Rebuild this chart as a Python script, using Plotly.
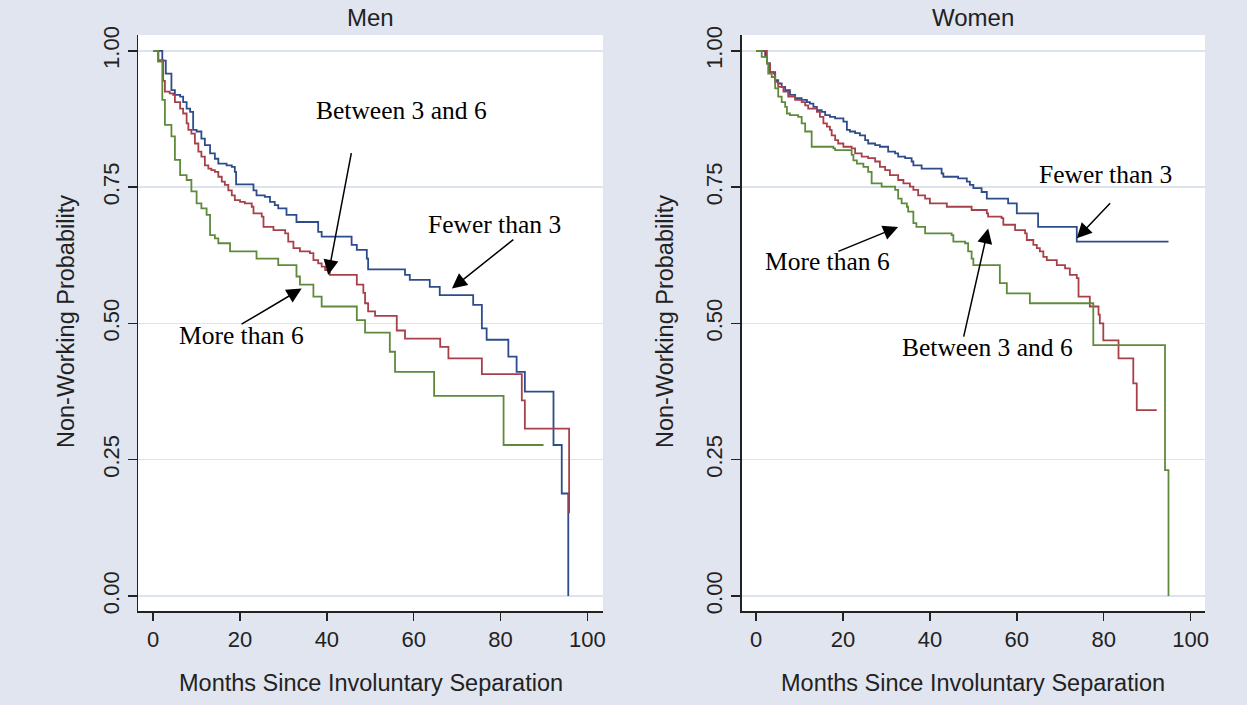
import plotly.graph_objects as go

# ---------------- data ----------------
tick_x = [0, 20, 40, 60, 80, 100]
tick_y = [0, 0.25, 0.5, 0.75, 1.0]
tick_y_text = ["0.00", "0.25", "0.50", "0.75", "1.00"]
series_names = ["Fewer than 3", "Between 3 and 6", "More than 6"]

# Men
men_fewer_t = [0, 2.1, 2.9, 4.2, 5.0, 6.2, 6.9, 7.7, 8.5, 9.2, 10.0, 11.1, 11.9, 13.1, 14.2, 15.0,
               16.9, 18.1, 18.8, 19.1, 23.1, 23.8, 25.7, 26.9, 28.0, 28.8, 30.7, 33.0, 38.0, 38.8,
               45.7, 46.9, 49.2, 49.5, 58.0, 59.1, 63.7, 66.0, 73.7, 75.7, 76.8, 81.8, 83.7, 85.6,
               92.2, 94.1, 95.6]
men_fewer_s = [1.0, 0.982, 0.958, 0.928, 0.919, 0.916, 0.906, 0.894, 0.888, 0.855, 0.852, 0.839,
               0.827, 0.812, 0.802, 0.793, 0.790, 0.787, 0.778, 0.755, 0.744, 0.735, 0.732, 0.723,
               0.717, 0.711, 0.699, 0.686, 0.668, 0.659, 0.644, 0.635, 0.619, 0.599, 0.589, 0.580,
               0.567, 0.552, 0.534, 0.491, 0.470, 0.439, 0.411, 0.375, 0.277, 0.188, 0.0]

men_between_t = [0, 1.2, 2.3, 2.7, 3.8, 4.6, 5.0, 6.2, 6.9, 7.7, 8.1, 8.8, 9.6, 10.4, 11.1, 11.9,
                 12.7, 13.4, 14.2, 15.0, 15.8, 16.5, 17.3, 18.1, 18.8, 20.0, 21.1, 22.7, 23.1, 25.0,
                 25.4, 27.7, 30.4, 31.1, 32.3, 33.8, 36.1, 36.9, 38.0, 38.8, 39.6, 40.7, 46.9, 48.4,
                 48.8, 49.5, 51.1, 56.1, 58.0, 66.1, 68.0, 75.7, 84.9, 85.6, 95.8]
men_between_s = [1.0, 0.983, 0.945, 0.925, 0.922, 0.919, 0.906, 0.894, 0.885, 0.867, 0.855, 0.848,
                 0.830, 0.815, 0.806, 0.790, 0.784, 0.781, 0.778, 0.769, 0.760, 0.754, 0.744, 0.735,
                 0.726, 0.723, 0.720, 0.714, 0.702, 0.696, 0.677, 0.671, 0.665, 0.650, 0.638, 0.632,
                 0.629, 0.616, 0.610, 0.604, 0.598, 0.589, 0.571, 0.556, 0.537, 0.522, 0.514, 0.487,
                 0.472, 0.457, 0.436, 0.407, 0.359, 0.307, 0.152]

men_more_t = [0, 1.1, 2.1, 2.7, 4.2, 5.0, 6.2, 7.7, 8.8, 10.0, 11.1, 12.3, 13.1, 14.2, 15.0, 17.7,
              23.8, 28.8, 33.0, 33.8, 36.9, 38.8, 46.9, 48.8, 54.5, 55.7, 64.7, 80.7, 89.9]
men_more_s = [1.0, 0.980, 0.910, 0.864, 0.843, 0.800, 0.772, 0.763, 0.742, 0.720, 0.711, 0.699,
              0.662, 0.656, 0.647, 0.632, 0.619, 0.607, 0.586, 0.571, 0.549, 0.531, 0.506, 0.483,
              0.448, 0.411, 0.367, 0.277, 0.277]

# Women
women_fewer_t = [0, 2.1, 2.5, 3.2, 4.4, 5.1, 5.9, 6.7, 7.8, 9.0, 10.5, 11.7, 12.4, 13.2, 14.0, 15.1,
                 15.9, 17.0, 18.2, 20.1, 20.9, 21.6, 22.8, 23.9, 25.1, 25.8, 27.4, 28.5, 30.4, 32.0,
                 32.7, 34.3, 35.8, 36.2, 38.1, 42.7, 43.1, 46.5, 48.5, 49.2, 50.0, 51.9, 53.1, 58.0,
                 60.0, 64.9, 73.8, 94.9]
women_fewer_s = [1.0, 0.989, 0.977, 0.961, 0.946, 0.940, 0.934, 0.928, 0.919, 0.913, 0.910, 0.906,
                 0.903, 0.897, 0.891, 0.888, 0.882, 0.879, 0.876, 0.870, 0.855, 0.852, 0.849, 0.845,
                 0.836, 0.830, 0.827, 0.824, 0.815, 0.812, 0.806, 0.803, 0.797, 0.790, 0.784, 0.775,
                 0.769, 0.766, 0.760, 0.754, 0.748, 0.741, 0.729, 0.720, 0.702, 0.677, 0.650, 0.650]

women_between_t = [0, 2.5, 3.2, 4.0, 4.4, 5.1, 6.3, 7.4, 9.0, 10.5, 11.3, 12.0, 14.0, 14.7, 15.5,
                   16.3, 17.0, 17.4, 18.2, 18.9, 20.1, 22.0, 22.8, 24.3, 25.8, 27.4, 28.5, 29.7,
                   30.8, 32.7, 33.9, 35.4, 36.2, 37.3, 38.9, 40.0, 43.9, 49.6, 53.1, 53.4, 56.5,
                   56.9, 59.6, 61.9, 62.3, 63.8, 64.6, 65.3, 66.1, 66.9, 69.2, 71.1, 72.2, 73.8,
                   74.2, 76.8, 78.8, 79.1, 79.9, 83.4, 86.8, 87.6, 92.2]
women_between_s = [1.0, 0.977, 0.961, 0.958, 0.943, 0.934, 0.925, 0.916, 0.910, 0.906, 0.900,
                   0.894, 0.888, 0.879, 0.867, 0.861, 0.855, 0.845, 0.836, 0.830, 0.824, 0.821,
                   0.812, 0.806, 0.803, 0.797, 0.787, 0.781, 0.772, 0.763, 0.757, 0.751, 0.745,
                   0.735, 0.729, 0.720, 0.714, 0.708, 0.702, 0.696, 0.693, 0.681, 0.671, 0.665,
                   0.653, 0.644, 0.638, 0.632, 0.622, 0.616, 0.607, 0.601, 0.589, 0.583, 0.549,
                   0.531, 0.516, 0.500, 0.469, 0.436, 0.390, 0.341, 0.341]

women_more_t = [0, 1.3, 2.5, 2.8, 3.6, 4.4, 5.1, 5.9, 6.7, 7.1, 7.8, 9.7, 10.5, 11.3, 12.8, 17.8,
                18.2, 22.0, 22.4, 23.2, 24.7, 25.8, 26.6, 28.9, 32.0, 32.7, 33.5, 34.7, 35.0, 36.2,
                36.9, 38.9, 45.0, 45.4, 48.1, 48.8, 49.6, 50.0, 56.1, 57.7, 63.0, 77.6, 94.1, 94.9]
women_more_s = [1.0, 0.989, 0.977, 0.958, 0.952, 0.931, 0.916, 0.906, 0.897, 0.885, 0.882, 0.879,
                0.867, 0.852, 0.824, 0.821, 0.818, 0.809, 0.799, 0.793, 0.787, 0.778, 0.757, 0.751,
                0.745, 0.729, 0.720, 0.714, 0.705, 0.684, 0.677, 0.665, 0.662, 0.650, 0.647, 0.632,
                0.619, 0.607, 0.574, 0.555, 0.537, 0.460, 0.231, 0.0]

# ---------------- styling ----------------
BG = "#E1E5EF"
GRID = "#DCE2EE"
COLORS = ["#2E4C8C", "#A8404A", "#5F8A3C"]
SANS = "Liberation Sans, Arial, sans-serif"
SERIF = "Liberation Serif, Times New Roman, serif"

fig = go.Figure()

panels = [
    ("x", "y", [(men_fewer_t, men_fewer_s), (men_between_t, men_between_s), (men_more_t, men_more_s)]),
    ("x2", "y2", [(women_fewer_t, women_fewer_s), (women_between_t, women_between_s),
                  (women_more_t, women_more_s)]),
]
for xa, ya, curves in panels:
    for (t, s), name, col in zip(curves, series_names, COLORS):
        fig.add_trace(go.Scatter(x=t, y=s, mode="lines", name=name, showlegend=False,
                                 line=dict(color=col, width=1.8, shape="hv"),
                                 xaxis=xa, yaxis=ya))

W, H = 1247, 705
men_dom = [138 / W, 603 / W]
women_dom = [741.7 / W, 1205 / W]
ydom = [1 - 611 / H, 1 - 35 / H]

xcommon = dict(range=[-3.5, 103.6], tickvals=tick_x, showgrid=False, zeroline=False,
               showline=True, linecolor="#222", linewidth=1.5, ticks="outside", ticklen=8,
               tickwidth=1.5, tickcolor="#222", tickfont=dict(family=SANS, size=22, color="#222"),
               fixedrange=True, automargin=False)
ycommon = dict(range=[-0.0275, 1.029], tickvals=tick_y, ticktext=tick_y_text, tickangle=-90,
               showgrid=True, gridcolor=GRID, gridwidth=1.5, zeroline=False,
               showline=True, linecolor="#222", linewidth=1.5, ticks="outside", ticklen=9,
               tickwidth=1.5, tickcolor="#222", tickfont=dict(family=SANS, size=22, color="#222"),
               fixedrange=True, automargin=False)

fig.update_layout(
    width=W, height=H, autosize=False,
    margin=dict(l=0, r=0, t=0, b=0, pad=0),
    paper_bgcolor=BG, plot_bgcolor="white",
    xaxis=dict(domain=men_dom, anchor="y", **xcommon),
    yaxis=dict(domain=ydom, anchor="x", **ycommon),
    xaxis2=dict(domain=women_dom, anchor="y2", **{**xcommon, "range": [-3.3, 103.3]}),
    yaxis2=dict(domain=ydom, anchor="x2", **ycommon),
)

# panel titles and axis titles
texts = [
    ("Men", (138 + 603) / 2 / W, 1 - 17 / H, 0, 24),
    ("Women", (741.7 + 1205) / 2 / W, 1 - 17 / H, 0, 24),
    ("Months Since Involuntary Separation", (138 + 603) / 2 / W, 1 - 683 / H, 0, 23.5),
    ("Months Since Involuntary Separation", (741.7 + 1205) / 2 / W, 1 - 683 / H, 0, 23.5),
    ("Non-Working Probability", 66 / W, 1 - 322 / H, -90, 23.5),
    ("Non-Working Probability", 665 / W, 1 - 322 / H, -90, 23.5),
]
for txt, px, py, ang, sz in texts:
    fig.add_annotation(text=txt, x=px, y=py, xref="paper", yref="paper", showarrow=False,
                       textangle=ang, xanchor="center", yanchor="middle",
                       font=dict(family=SANS, size=sz, color="#222"))

# curve labels with arrows: (panel, label, text pos, arrow tail, arrow tip)
labels = [
    ("", "Between 3 and 6", (57.1, 0.891), (45.7, 0.815), (40.3, 0.589)),
    ("", "Fewer than 3", (78.7, 0.682), (83.3, 0.656), (68.8, 0.564)),
    ("", "More than 6", (20.4, 0.477), (20.0, 0.497), (34.2, 0.564)),
    ("2", "Fewer than 3", (80.3, 0.774), (81.8, 0.723), (73.8, 0.656)),
    ("2", "More than 6", (16.4, 0.614), (18.6, 0.631), (32.7, 0.677)),
    ("2", "Between 3 and 6", (53.3, 0.455), (47.7, 0.473), (53.4, 0.674)),
]
for p, txt, tp, tail, tip in labels:
    fig.add_annotation(text=txt, x=tp[0], y=tp[1], xref="x" + p, yref="y" + p, showarrow=False,
                       xanchor="center", yanchor="middle",
                       font=dict(family=SERIF, size=25.5, color="black"))
    fig.add_annotation(text="", x=tip[0], y=tip[1], xref="x" + p, yref="y" + p,
                       ax=tail[0], ay=tail[1], axref="x" + p, ayref="y" + p,
                       showarrow=True, arrowhead=2, arrowsize=2.0, arrowwidth=1.5,
                       arrowcolor="black", standoff=0, startstandoff=0)

fig.write_html("out.html", config={"displayModeBar": False, "staticPlot": True},
               post_script="document.body.style.margin='0';document.body.style.overflow='hidden';")
